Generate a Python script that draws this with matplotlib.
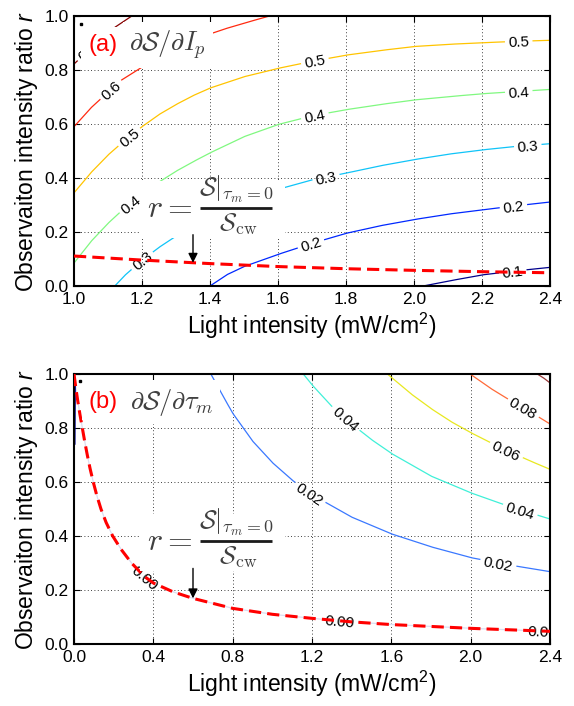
import numpy as np
import matplotlib
matplotlib.use("Agg")
import matplotlib.pyplot as plt
from matplotlib.patches import Rectangle

plt.rcParams.update({
    "font.family": ["Liberation Sans", "DejaVu Sans"],
    "mathtext.fontset": "custom",
    "mathtext.rm": "Liberation Sans",
    "mathtext.it": "Liberation Sans:italic",
    "mathtext.bf": "Liberation Sans:bold",
})

# ---- panel (a): contours of dS/dI_p (x: light intensity, y: ratio r) ----
a_levels = ["0.1", "0.2", "0.3", "0.4", "0.5", "0.6", "0.7"]
a_x_01 = [2.027, 2.1, 2.2, 2.3, 2.4]
a_y_01 = [0.0, 0.018, 0.041, 0.056, 0.069]
a_x_02 = [1.4, 1.45, 1.5, 1.6, 1.7, 1.8, 1.9, 2.0, 2.1, 2.2, 2.3, 2.4]
a_y_02 = [0.0, 0.042, 0.072, 0.117, 0.158, 0.195, 0.223, 0.246, 0.266, 0.282, 0.297, 0.311]
a_x_03 = [1.12, 1.15, 1.2, 1.25, 1.3, 1.35, 1.4, 1.5, 1.6, 1.7, 1.8, 1.9, 2.0, 2.1, 2.2, 2.3, 2.4]
a_y_03 = [0.0, 0.04, 0.095, 0.143, 0.185, 0.222, 0.255, 0.31, 0.358, 0.393, 0.418, 0.445,
          0.468, 0.488, 0.504, 0.517, 0.527]
a_x_04 = [1.0, 1.05, 1.1, 1.15, 1.2, 1.25, 1.3, 1.35, 1.4, 1.5, 1.6, 1.7, 1.8, 1.9, 2.0,
          2.1, 2.2, 2.3, 2.4]
a_y_04 = [0.085, 0.165, 0.232, 0.29, 0.34, 0.385, 0.425, 0.46, 0.493, 0.553, 0.598, 0.630,
          0.653, 0.672, 0.689, 0.701, 0.712, 0.720, 0.728]
a_x_05 = a_x_04
a_y_05 = [0.345, 0.42, 0.485, 0.54, 0.59, 0.635, 0.672, 0.705, 0.733, 0.775, 0.806, 0.832,
          0.855, 0.872, 0.887, 0.895, 0.901, 0.906, 0.910]
a_x_06 = [1.0, 1.05, 1.108, 1.14, 1.184, 1.25, 1.32, 1.38, 1.443, 1.51, 1.575]
a_y_06 = [0.59, 0.66, 0.727, 0.763, 0.798, 0.85, 0.895, 0.925, 0.952, 0.977, 1.0]
a_x_07 = [1.0, 1.03, 1.07, 1.12, 1.17]
a_y_07 = [0.822, 0.858, 0.905, 0.958, 1.0]
a_colors = ["#00008c", "#0028ff", "#10c4f8", "#80f880", "#ffc400", "#ff2a10", "#860000"]
a_label_x = [[2.29], [1.697, 2.292], [1.2, 1.741, 2.335], [1.165, 1.708, 2.308],
             [1.162, 1.708, 2.308], [1.108], [1.04]]
# r = S|_{tau_m=0} / S_cw for panel (a)
a_r_x = [1.0, 1.2, 1.4, 1.6, 1.8, 2.0, 2.2, 2.4]
a_r_y = [0.111, 0.096, 0.083, 0.072, 0.064, 0.058, 0.053, 0.049]

# ---- panel (b): contours of dS/dtau_m ----
b_levels = ["0.00", "0.02", "0.04", "0.06", "0.08", "0.10"]
b_r_x = [0.0, 0.009, 0.019, 0.03, 0.042, 0.054, 0.067, 0.081, 0.097, 0.115, 0.136, 0.162,
         0.195, 0.238, 0.29, 0.355, 0.4, 0.5, 0.6, 0.8, 1.0, 1.2, 1.4, 1.6, 2.0, 2.4]
b_r_y = [1.0, 0.95, 0.9, 0.85, 0.8, 0.75, 0.7, 0.65, 0.6, 0.55, 0.5, 0.45,
         0.4, 0.35, 0.3, 0.25, 0.226, 0.193, 0.169, 0.132, 0.11, 0.095, 0.082, 0.072, 0.058, 0.047]
b_x_000 = b_r_x
b_y_000 = b_r_y
b_x_002 = [0.69, 0.75, 0.8, 0.9, 1.0, 1.1, 1.2, 1.4, 1.6, 1.8, 2.0, 2.2, 2.4]
b_y_002 = [1.0, 0.92, 0.855, 0.752, 0.672, 0.607, 0.553, 0.47, 0.408, 0.36, 0.32, 0.292, 0.268]
b_x_004 = [1.156, 1.2, 1.3, 1.4, 1.5, 1.6, 1.8, 2.0, 2.2, 2.4]
b_y_004 = [1.0, 0.96, 0.88, 0.815, 0.757, 0.706, 0.622, 0.56, 0.508, 0.463]
b_x_006 = [1.58, 1.7, 1.8, 1.9, 2.0, 2.1, 2.2, 2.3, 2.4]
b_y_006 = [1.0, 0.926, 0.872, 0.824, 0.783, 0.746, 0.711, 0.678, 0.647]
b_x_008 = [1.997, 2.1, 2.2, 2.3, 2.4]
b_y_008 = [1.0, 0.947, 0.902, 0.86, 0.815]
b_x_010 = [2.336, 2.37, 2.4]
b_y_010 = [1.0, 0.984, 0.967]
b_colors = ["#dcdcf0", "#3a78ff", "#40f0d8", "#e8e820", "#ff6a38", "#983838"]
b_label_x = [[0.36, 1.34, 2.36], [1.19, 2.14], [1.37, 2.25], [2.18], [2.266], []]
# zero-level branch hugging the r axis
b_edge_x = [0.007, 0.005]
b_edge_y = [0.98, 0.74]

a_xticks = [1.0, 1.2, 1.4, 1.6, 1.8, 2.0, 2.2, 2.4]
b_xticks = [0.0, 0.4, 0.8, 1.2, 1.6, 2.0, 2.4]
yticks = [0.0, 0.2, 0.4, 0.6, 0.8, 1.0]

fig = plt.figure(figsize=(5.74, 7.06), dpi=100)
ax_a = fig.add_axes([74 / 574, 1 - 286 / 706, 476 / 574, 270 / 706])
ax_b = fig.add_axes([74 / 574, 1 - 644 / 706, 476 / 574, 270 / 706])


def style_axes(ax, xlim, xticks):
    ax.set_xlim(*xlim)
    ax.set_ylim(0, 1)
    ax.set_xticks(xticks)
    ax.set_yticks(yticks)
    ax.set_xticklabels([f"{t:.1f}" for t in xticks])
    ax.set_yticklabels([f"{t:.1f}" for t in yticks])
    ax.tick_params(direction="in", length=4, width=0.8, top=True, right=True,
                   labelsize=12.5, pad=4)
    for sp in ax.spines.values():
        sp.set_linewidth(1.5)
    ax.set_axisbelow(True)
    ax.grid(True, color="k", linestyle=(0, (1, 3)), linewidth=0.6)
    ax.set_xlabel("Light intensity (mW/cm$^2$)", fontsize=16.5, labelpad=3)
    ax.set_ylabel("Observaiton intensity ratio $r$", fontsize=16.5, labelpad=3)


style_axes(ax_a, (1.0, 2.4), a_xticks)
style_axes(ax_b, (0.0, 2.4), b_xticks)


def contour_line(ax, xs, ys, color, text, label_xs, fs=11, lw=0.9):
    xs = np.asarray(xs, float)
    ys = np.asarray(ys, float)
    P = ax.transData.transform(np.column_stack([xs, ys]))
    seg = np.hypot(*np.diff(P, axis=0).T)
    s = np.concatenate([[0.0], np.cumsum(seg)])
    ss = np.linspace(0, s[-1], max(int(s[-1] * 2), 2))
    X = np.interp(ss, s, xs)
    Y = np.interp(ss, s, ys)
    Q = ax.transData.transform(np.column_stack([X, Y]))
    em = fs * fig.dpi / 72
    width = sum(0.278 if c == "." else 0.556 for c in text) * em
    for lx in label_xs:
        sl = np.interp(lx, xs, s)
        p = np.array([np.interp(sl, s, P[:, 0]), np.interp(sl, s, P[:, 1])])
        a = np.array([np.interp(sl - 8, s, P[:, 0]), np.interp(sl - 8, s, P[:, 1])])
        b = np.array([np.interp(sl + 8, s, P[:, 0]), np.interp(sl + 8, s, P[:, 1])])
        ang = np.degrees(np.arctan2(b[1] - a[1], b[0] - a[0]))
        if ang > 90:
            ang -= 180
        if ang < -90:
            ang += 180
        X[np.hypot(Q[:, 0] - p[0], Q[:, 1] - p[1]) < width / 2 + 3] = np.nan
        d = ax.transData.inverted().transform(p)
        ax.text(d[0], d[1], text, rotation=ang, rotation_mode="anchor", ha="center",
                va="center_baseline", fontsize=fs, color="k", clip_on=True, zorder=3)
    ax.plot(X, Y, color=color, lw=lw, zorder=2, solid_capstyle="butt")


a_curves = [(a_x_01, a_y_01), (a_x_02, a_y_02), (a_x_03, a_y_03), (a_x_04, a_y_04),
            (a_x_05, a_y_05), (a_x_06, a_y_06), (a_x_07, a_y_07)]
for (xs, ys), c, t, lx in zip(a_curves, a_colors, a_levels, a_label_x):
    contour_line(ax_a, xs, ys, c, t, lx)

b_curves = [(b_x_000, b_y_000), (b_x_002, b_y_002), (b_x_004, b_y_004),
            (b_x_006, b_y_006), (b_x_008, b_y_008), (b_x_010, b_y_010)]
for (xs, ys), c, t, lx in zip(b_curves, b_colors, b_levels, b_label_x):
    contour_line(ax_b, xs, ys, c, t, lx)
ax_b.plot(b_edge_x, b_edge_y, color="#000090", lw=0.8, zorder=2)

# r = S|_{tau_m=0}/S_cw curves
ax_a.plot(a_r_x, a_r_y, color="red", lw=2.2, linestyle=(0, (4, 2)), zorder=4)
ax_b.plot(b_r_x, b_r_y, color="red", lw=2.2, linestyle=(0, (4, 2)), zorder=4)

gray = "#404040"
box = dict(facecolor="white", edgecolor="none", pad=5)


def ratio_formula(ax, bar_y):
    """Typeset r = S|_{tau_m=0} / S_cw with a heavy fraction bar (axes fractions)."""
    T = ax.transAxes
    ax.add_patch(Rectangle((0.139, bar_y - 0.111), 0.304, 0.211, transform=T,
                           facecolor="white", edgecolor="none", zorder=5))
    ax.text(0.248, bar_y - 0.004, r"$r =$", transform=T, color=gray, fontsize=23,
            ha="right", va="center", math_fontfamily="cm", zorder=6)
    ax.plot([0.265, 0.416], [bar_y, bar_y], transform=T, color="#1a1a1a", lw=2.0,
            solid_capstyle="butt", zorder=6)
    ax.text(0.340, bar_y + 0.010, r"$\mathcal{S}|_{\tau_m=0}$", transform=T, color=gray,
            fontsize=18.5, ha="center", va="bottom", math_fontfamily="cm", zorder=6)
    ax.text(0.345, bar_y - 0.014, r"$\mathcal{S}_{\rm cw}$", transform=T, color=gray,
            fontsize=18, ha="center", va="top", math_fontfamily="cm", zorder=6)


ax_a.text(1.085, 0.893, "(a)", color="red", fontsize=17, ha="center", va="center",
          bbox=box, zorder=6)
ax_a.text(1.163, 0.893, r"$\partial\mathcal{S}/\partial I_p$", color=gray, fontsize=19,
          ha="left", va="center", math_fontfamily="cm", bbox=box, zorder=6)
ratio_formula(ax_a, 0.289)
ax_a.annotate("", xy=(1.35, 0.086), xytext=(1.35, 0.19),
              arrowprops=dict(arrowstyle="-|>", color="k", lw=1, mutation_scale=14,
                              shrinkA=0, shrinkB=0), zorder=7)

ax_b.text(0.146, 0.896, "(b)", color="red", fontsize=17, ha="center", va="center",
          bbox=box, zorder=6)
ax_b.text(0.28, 0.896, r"$\partial\mathcal{S}/\partial\tau_m$", color=gray, fontsize=19,
          ha="left", va="center", math_fontfamily="cm", bbox=box, zorder=6)
ratio_formula(ax_b, 0.383)
ax_b.annotate("", xy=(0.6, 0.169), xytext=(0.6, 0.28),
              arrowprops=dict(arrowstyle="-|>", color="k", lw=1, mutation_scale=14,
                              shrinkA=0, shrinkB=0), zorder=7)

# small marks near the top-left corners
ax_a.plot([1.02], [0.969], marker="s", ms=1.5, color="k", zorder=7)
ax_b.plot([0.03], [0.975], marker="s", ms=1.5, color="k", zorder=7)

fig.savefig("out.png", dpi=100)
